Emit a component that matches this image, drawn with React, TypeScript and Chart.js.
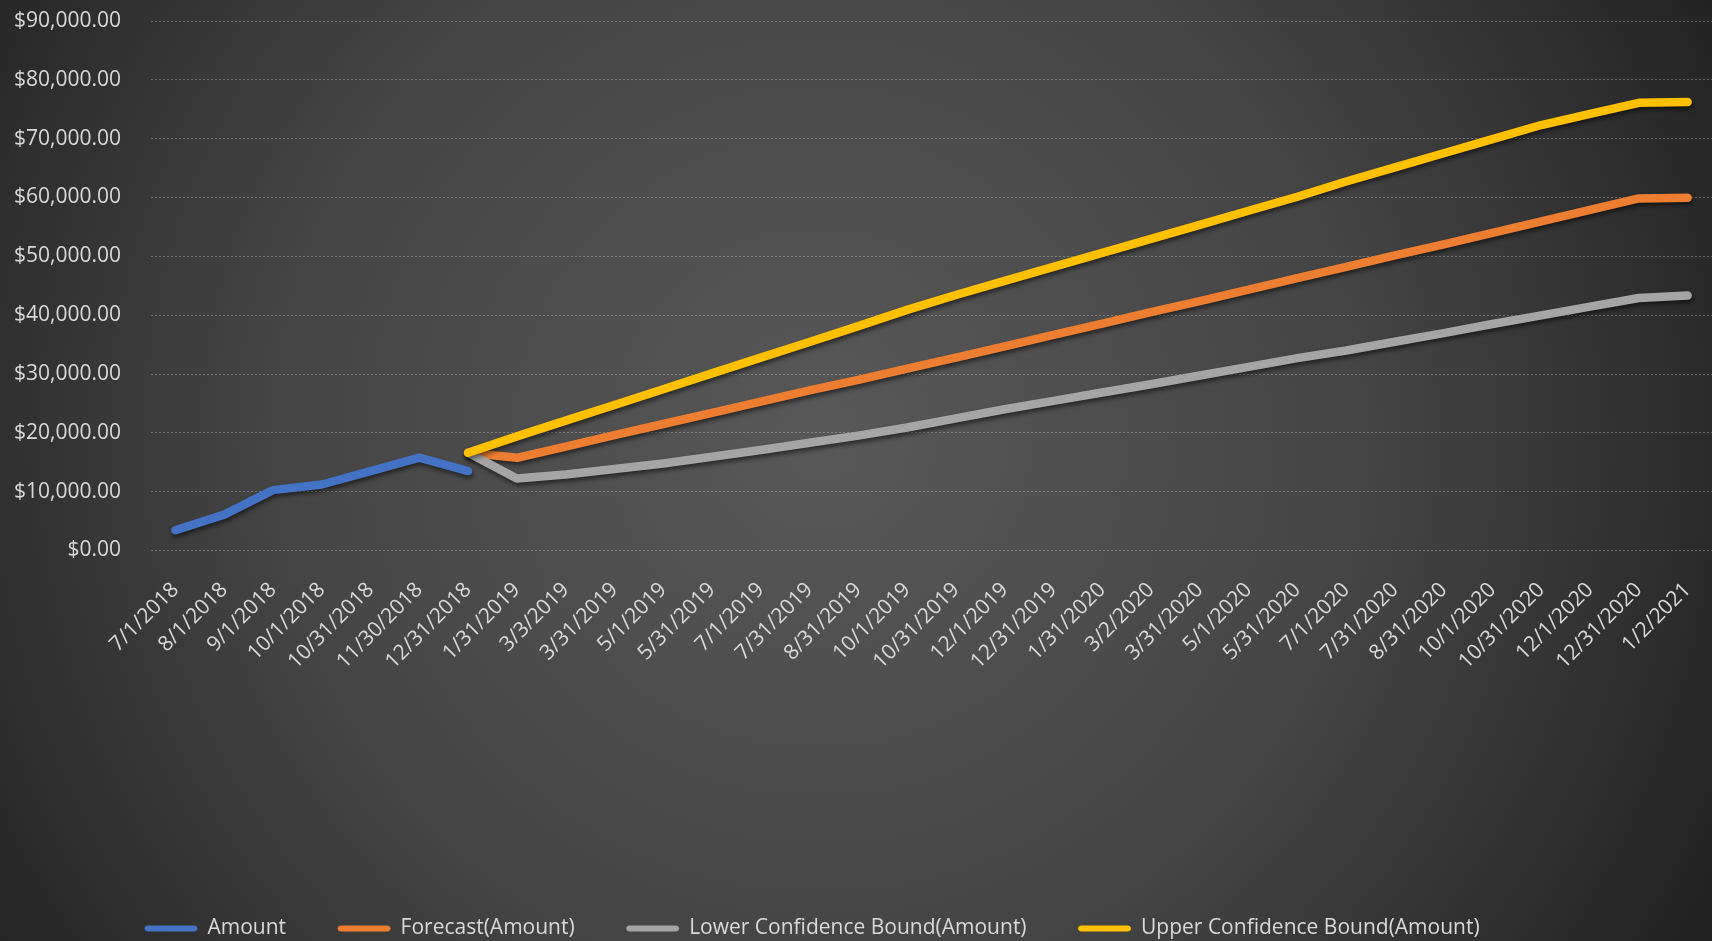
import { useEffect, useRef } from 'react';
import { Chart, registerables } from 'chart.js';

Chart.register(...registerables);

const categories = [
  '7/1/2018', '8/1/2018', '9/1/2018', '10/1/2018', '10/31/2018', '11/30/2018', '12/31/2018',
  '1/31/2019', '3/3/2019', '3/31/2019', '5/1/2019', '5/31/2019', '7/1/2019', '7/31/2019',
  '8/31/2019', '10/1/2019', '10/31/2019', '12/1/2019', '12/31/2019',
  '1/31/2020', '3/2/2020', '3/31/2020', '5/1/2020', '5/31/2020', '7/1/2020', '7/31/2020',
  '8/31/2020', '10/1/2020', '10/31/2020', '12/1/2020', '12/31/2020', '1/2/2021',
];

// Historical values (7/1/2018 .. 12/31/2018)
const amountValues = [3440, 6100, 10260, 11220, 13500, 15770, 13500];

// Forecast series start at 12/31/2018 and run to 1/2/2021
const forecastStart = '12/31/2018';
const forecastValues = [
  16600, 15750, 17650, 19600, 21500, 23400, 25300, 27200, 29000, 30900, 32800, 34700, 36650,
  38550, 40500, 42400, 44350, 46300, 48200, 50150, 52050, 54000, 55950, 57900, 59850, 59950,
];
const lowerValues = [
  16600, 12240, 12920, 13840, 14800, 15940, 17080, 18320, 19520, 20900, 22470, 24000, 25430,
  26850, 28260, 29740, 31220, 32700, 34000, 35490, 36950, 38490, 39970, 41450, 42920, 43330,
];
const upperValues = [
  16600, 19400, 22070, 24740, 27410, 30100, 32780, 35450, 38130, 40900, 43430, 45820, 48200,
  50590, 52980, 55360, 57750, 60130, 62710, 65130, 67520, 69920, 72320, 74230, 76100, 76220,
];

const seriesNames = [
  'Amount',
  'Forecast(Amount)',
  'Lower Confidence Bound(Amount)',
  'Upper Confidence Bound(Amount)',
];
const seriesColors = ['#4472C4', '#ED7D31', '#A5A5A5', '#FFC000'];

const yMin = 0;
const yMax = 90000;
const yStep = 10000;

const FONT = '"Open Sans", "Noto Sans", sans-serif';
const TEXT = '#d9d9d9';

function place(values: number[], startIndex: number): (number | null)[] {
  return categories.map((_, i) => {
    const k = i - startIndex;
    return k >= 0 && k < values.length ? values[k] : null;
  });
}

function money(v: number): string {
  return '$' + v.toLocaleString('en-US', { minimumFractionDigits: 2, maximumFractionDigits: 2 });
}

export default function App() {
  const canvasRef = useRef<HTMLCanvasElement>(null);

  useEffect(() => {
    const canvas = canvasRef.current;
    if (!canvas) return;
    const fIdx = categories.indexOf(forecastStart);
    const seriesData = [
      place(amountValues, 0),
      place(forecastValues, fIdx),
      place(lowerValues, fIdx),
      place(upperValues, fIdx),
    ];

    const background = {
      id: 'background',
      beforeDraw(chart: any) {
        const { ctx, width, height } = chart;
        ctx.save();
        const g = ctx.createRadialGradient(820, 440, 0, 820, 440, 1000);
        g.addColorStop(0, '#585858');
        g.addColorStop(0.55, '#444444');
        g.addColorStop(1, '#222222');
        ctx.fillStyle = g;
        ctx.fillRect(0, 0, width, height);
        ctx.restore();
      },
    };

    const lineShadow = {
      id: 'lineShadow',
      beforeDatasetsDraw(chart: any) {
        const c = chart.ctx;
        c.save();
        c.shadowColor = 'rgba(0,0,0,0.5)';
        c.shadowBlur = 4;
        c.shadowOffsetX = 1;
        c.shadowOffsetY = 3;
      },
      afterDatasetsDraw(chart: any) {
        chart.ctx.restore();
      },
    };

    const legendShift = {
      id: 'legendShift',
      afterLayout(chart: any) {
        const l = chart.legend;
        if (!l) return;
        const dx = 93;
        const dy = 8;
        l.left += dx;
        l.right += dx;
        l.top += dy;
        l.bottom += dy;
      },
    };

    const chart = new Chart(canvas, {
      type: 'line',
      data: {
        labels: categories,
        datasets: seriesNames.map((name, i) => ({
          label: name,
          data: seriesData[i],
          borderColor: seriesColors[i],
          backgroundColor: seriesColors[i],
          borderWidth: 8.5,
          borderCapStyle: 'round',
          borderJoinStyle: 'round',
          pointRadius: 0,
          pointHoverRadius: 0,
          tension: 0,
          fill: false,
          spanGaps: false,
          order: seriesNames.length - i,
        })),
      },
      options: {
        animation: false,
        responsive: true,
        maintainAspectRatio: false,
        layout: { padding: { top: 21, right: 0, bottom: 0, left: 0 } },
        plugins: {
          tooltip: { enabled: false },
          legend: {
            position: 'bottom',
            align: 'start',
            labels: {
              color: TEXT,
              font: { family: FONT, size: 21 },
              boxWidth: 52,
              boxHeight: 5,
              padding: 52,
              useBorderRadius: true,
              borderRadius: 2.5,
              generateLabels: () =>
                seriesNames.map((name, i) => ({
                  text: name,
                  fillStyle: seriesColors[i],
                  strokeStyle: seriesColors[i],
                  lineWidth: 1,
                  fontColor: TEXT,
                  hidden: false,
                  datasetIndex: i,
                  borderRadius: 2.5,
                })),
            },
          },
        },
        scales: {
          x: {
            type: 'category',
            offset: true,
            grid: { display: false, drawTicks: false },
            border: { display: false },
            ticks: {
              color: TEXT,
              font: { family: FONT, size: 21 },
              autoSkip: false,
              minRotation: 45,
              maxRotation: 45,
              padding: 27,
            },
            afterFit(scale: any) {
              scale.height = 307.5;
              scale.paddingLeft = 0;
              scale.paddingRight = 0;
            },
          },
          y: {
            min: yMin,
            max: yMax,
            grid: {
              color: 'rgba(210,210,210,0.38)',
              lineWidth: 1,
              drawTicks: false,
            },
            border: { display: false, dash: [2, 2] },
            ticks: {
              stepSize: yStep,
              color: TEXT,
              font: { family: FONT, size: 21 },
              padding: 30,
              callback: (v: any) => money(Number(v)),
            },
            afterFit(scale: any) {
              scale.width = 151;
              scale.paddingTop = 0;
              scale.paddingBottom = 0;
            },
          },
        },
      },
      plugins: [background, lineShadow, legendShift],
    } as any);

    return () => chart.destroy();
  }, []);

  return (
    <div style={{ position: 'fixed', left: 0, top: 0, width: 1712, height: 941 }}>
      <canvas ref={canvasRef} />
    </div>
  );
}
